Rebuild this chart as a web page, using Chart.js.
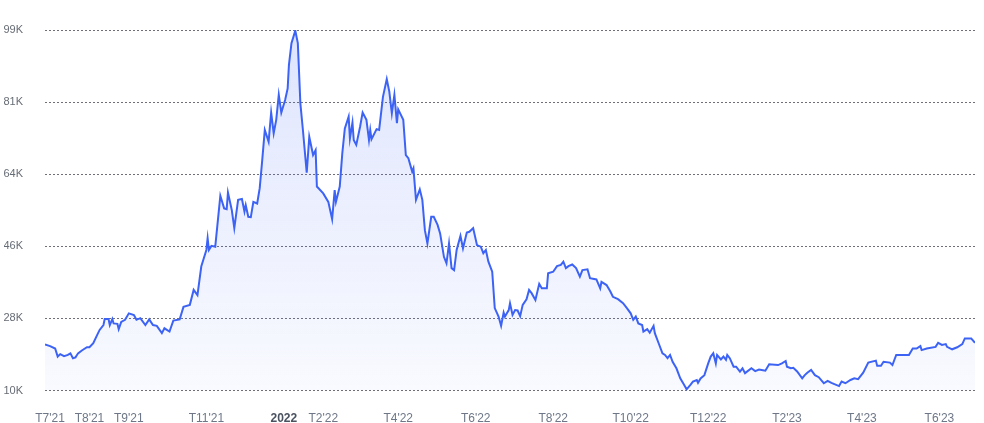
<!DOCTYPE html>
<html lang="vi">
<head>
    <meta charset="UTF-8">
    <title>Chart</title>
    <script src="https://cdn.jsdelivr.net/npm/chart.js@4/dist/chart.umd.min.js"></script>
    <style>
        body { margin: 0; background: #fff; }
        #wrap { width: 984px; height: 423px; }
    </style>
</head>
<body>
    <div id="wrap"><canvas id="priceChart" width="984" height="423"></canvas></div>

    <script>
        // day offsets from 1 Jul 2021
        const days = [
            -4, 0, 4, 6, 8, 11, 14, 16, 18, 20, 22, 25, 29, 31, 34, 37, 39, 42, 43, 46,
            47, 49, 50, 53, 54, 56, 59, 62, 66, 68, 71, 75, 78, 81, 84, 88, 90, 94, 97, 102,
            105, 110, 113, 116, 119, 123, 124, 125, 127, 130, 134, 137, 139, 140, 143, 145, 148, 151, 153, 154,
            156, 158, 160, 163, 165, 167, 169, 172, 174, 176, 178, 180, 182, 185, 187, 188, 190, 193, 195, 197,
            199, 202, 204, 207, 209, 210, 215, 219, 222, 224, 225, 228,
            230, 232, 235, 236, 238, 239, 241, 244, 246, 249, 251, 252, 253, 257, 259, 262, 265, 267, 269, 271,
            273, 274, 278, 280, 282, 285, 286, 288, 291, 293, 295, 297, 300, 302, 305, 307, 310, 312, 314, 316,
            318, 320, 323, 325, 328, 330, 333,
            336, 339, 341, 343, 345, 348, 350, 353, 355, 357, 358, 361, 362, 364, 366, 368, 370, 372, 375, 377,
            379, 382, 385, 387, 391, 392, 396, 399, 402, 404, 406, 408, 411, 414, 417, 419, 423, 425, 430, 433,
            434, 438, 441, 443, 447, 451, 454, 457, 459, 461, 463,
            466, 467, 470, 472, 475, 476, 479, 482, 484, 486, 488, 490, 493, 496, 499, 501, 504, 506, 509, 510,
            512, 515, 518, 520, 522, 524, 525, 528, 530, 532, 533, 535, 538, 540, 543, 545, 547, 552, 555, 558,
            560, 563, 566, 573, 576, 579, 580, 583, 585, 588, 592, 594,
            596, 599, 602, 605, 609, 612, 615, 621, 623, 626, 630, 633, 636, 640, 644, 650, 651, 654, 656, 661,
            663, 666, 676, 679, 682, 685, 686, 690, 697, 699, 702, 705, 706, 710, 714, 718, 720, 725, 728
        ];

        // values in thousands
        const values = [
            21.4, 21.0, 20.4, 18.4, 19.0, 18.5, 18.8, 19.2, 18.0, 18.2, 19.2, 19.9, 20.7, 20.7, 21.7, 23.7, 25.0, 26.2, 27.7, 27.7,
            26.2, 27.7, 26.6, 26.5, 25.2, 27.0, 27.5, 29.1, 28.7, 27.5, 27.9, 26.2, 27.6, 26.2, 26.0, 24.2, 25.4, 24.6, 27.3, 27.6,
            30.7, 31.2, 34.9, 33.6, 40.7, 44.8, 47.7, 44.8, 45.8, 45.6, 58.2, 55.1, 54.9, 59.0, 54.7, 50.2, 57.2, 57.4, 54.3, 55.9,
            53.0, 52.9, 56.7, 56.3, 60.1, 67.1, 74.5, 71.6, 78.8, 73.7, 77.0, 83.2, 78.8, 81.9, 84.8, 90.6, 96.0, 99.1, 96.0, 81.1,
            74.5, 63.9, 72.8, 68.3, 69.5, 60.5, 58.8, 56.7, 52.4, 59.6, 56.7, 60.5,
            68.7, 74.9, 77.8, 72.4, 76.3, 72.0, 70.8, 75.3, 78.8, 77.0, 72.0, 74.5, 72.2, 74.7, 74.5, 82.7, 87.1, 84.0, 78.6, 83.2,
            76.2, 79.6, 77.0, 68.3, 67.5, 64.2, 65.0, 57.2, 59.8, 57.2, 49.7, 46.4, 53.0, 53.0, 51.0, 48.9, 43.1, 41.5, 46.4, 40.3,
            39.8, 44.8, 48.3, 45.2, 49.1, 49.3, 50.2,
            46.0, 45.6, 44.0, 44.8, 41.9, 39.4, 30.4, 28.3, 26.0, 29.3, 28.3, 29.9, 31.6, 28.7, 29.9, 29.8, 28.4, 31.2, 32.6, 34.9,
            34.1, 32.4, 36.4, 35.3, 35.3, 39.0, 39.4, 40.8, 41.1, 41.9, 40.3, 40.8, 41.2, 40.3, 38.2, 39.8, 40.0, 37.8, 37.5, 35.3,
            36.9, 36.1, 34.5, 33.2, 32.6, 31.6, 30.4, 29.1, 27.5, 28.3, 26.6,
            26.2, 24.6, 25.2, 24.3, 26.0, 24.2, 21.7, 19.2, 18.8, 18.0, 18.8, 17.1, 15.5, 13.0, 11.4, 10.3, 11.4, 12.2, 12.6, 11.9,
            13.0, 13.8, 16.7, 18.4, 19.2, 16.7, 18.8, 17.7, 18.4, 17.6, 18.8, 18.0, 15.9, 15.9, 14.7, 15.5, 14.3, 15.5, 14.8, 15.2,
            15.1, 14.9, 16.5, 16.3, 16.7, 17.3, 15.9, 15.5, 15.6, 14.7, 13.0, 13.8,
            14.4, 15.1, 13.8, 13.3, 11.8, 12.4, 11.9, 11.1, 12.2, 11.8, 12.6, 13.0, 12.8, 14.4, 16.9, 17.4, 16.1, 16.1, 17.1, 16.9,
            16.3, 18.8, 18.8, 20.4, 20.4, 21.0, 20.0, 20.4, 20.8, 21.8, 21.3, 21.5, 20.8, 20.2, 20.7, 21.5, 22.9, 22.9, 21.8
        ];

        // x ticks: first day of month, as offsets from 1 Jul 2021
        const xTickDays = [0, 31, 62, 123, 184, 215, 274, 335, 396, 457, 518, 580, 639, 700];
        const xTickLabels = ["T7'21", "T8'21", "T9'21", "T11'21", "2022", "T2'22", "T4'22", "T6'22", "T8'22", "T10'22", "T12'22", "T2'23", "T4'23", "T6'23"];

        const yTickValues = [10, 27.85, 45.7, 63.55, 81.4, 99.25];
        const yTickLabels = ['10K', '28K', '46K', '64K', '81K', '99K'];

        const FONT = "'Liberation Sans', Arial, sans-serif";
        const LINE = '#3d63f5';

        const points = days.map((d, i) => ({ x: d, y: values[i] }));

        const ctx = document.getElementById('priceChart').getContext('2d');
        new Chart(ctx, {
            type: 'line',
            data: {
                datasets: [{
                    data: points,
                    borderColor: LINE,
                    borderWidth: 2,
                    pointRadius: 0,
                    tension: 0,
                    fill: 'start',
                    backgroundColor: function(c) {
                        const area = c.chart.chartArea;
                        if (!area) return 'rgba(61,99,245,0.08)';
                        const g = c.chart.ctx.createLinearGradient(0, area.top, 0, area.bottom);
                        g.addColorStop(0, 'rgba(61,99,245,0.17)');
                        g.addColorStop(1, 'rgba(61,99,245,0.03)');
                        return g;
                    }
                }]
            },
            options: {
                responsive: false,
                animation: false,
                layout: { padding: { left: 4, top: 30, right: 9, bottom: 0 } },
                plugins: {
                    legend: { display: false },
                    tooltip: { enabled: false }
                },
                scales: {
                    x: {
                        type: 'linear',
                        min: -4,
                        max: 728,
                        grid: { display: false },
                        border: { display: false },
                        afterBuildTicks: function(scale) {
                            scale.ticks = xTickDays.map(v => ({ value: v }));
                        },
                        afterFit: function(scale) { scale.height = 32.5; },
                        ticks: {
                            autoSkip: false,
                            maxRotation: 0,
                            padding: 13,
                            callback: (v, i) => xTickLabels[i],
                            color: c => (c.tick && c.tick.label === '2022') ? '#4a5260' : '#6e7787',
                            font: c => ({
                                family: FONT,
                                size: 12,
                                weight: (c.tick && c.tick.label === '2022') ? 'bold' : 'normal'
                            })
                        }
                    },
                    y: {
                        min: 10,
                        max: 99.25,
                        afterBuildTicks: function(scale) {
                            scale.ticks = yTickValues.map(v => ({ value: v }));
                        },
                        afterFit: function(scale) { scale.width = 41; },
                        grid: {
                            color: '#6f6f78',
                            lineWidth: 1,
                            drawTicks: false
                        },
                        border: { display: false, dash: [2, 2] },
                        ticks: {
                            padding: 22,
                            callback: (v, i) => yTickLabels[i],
                            color: '#666c75',
                            font: { family: FONT, size: 11 }
                        }
                    }
                }
            }
        });
    </script>
</body>
</html>
